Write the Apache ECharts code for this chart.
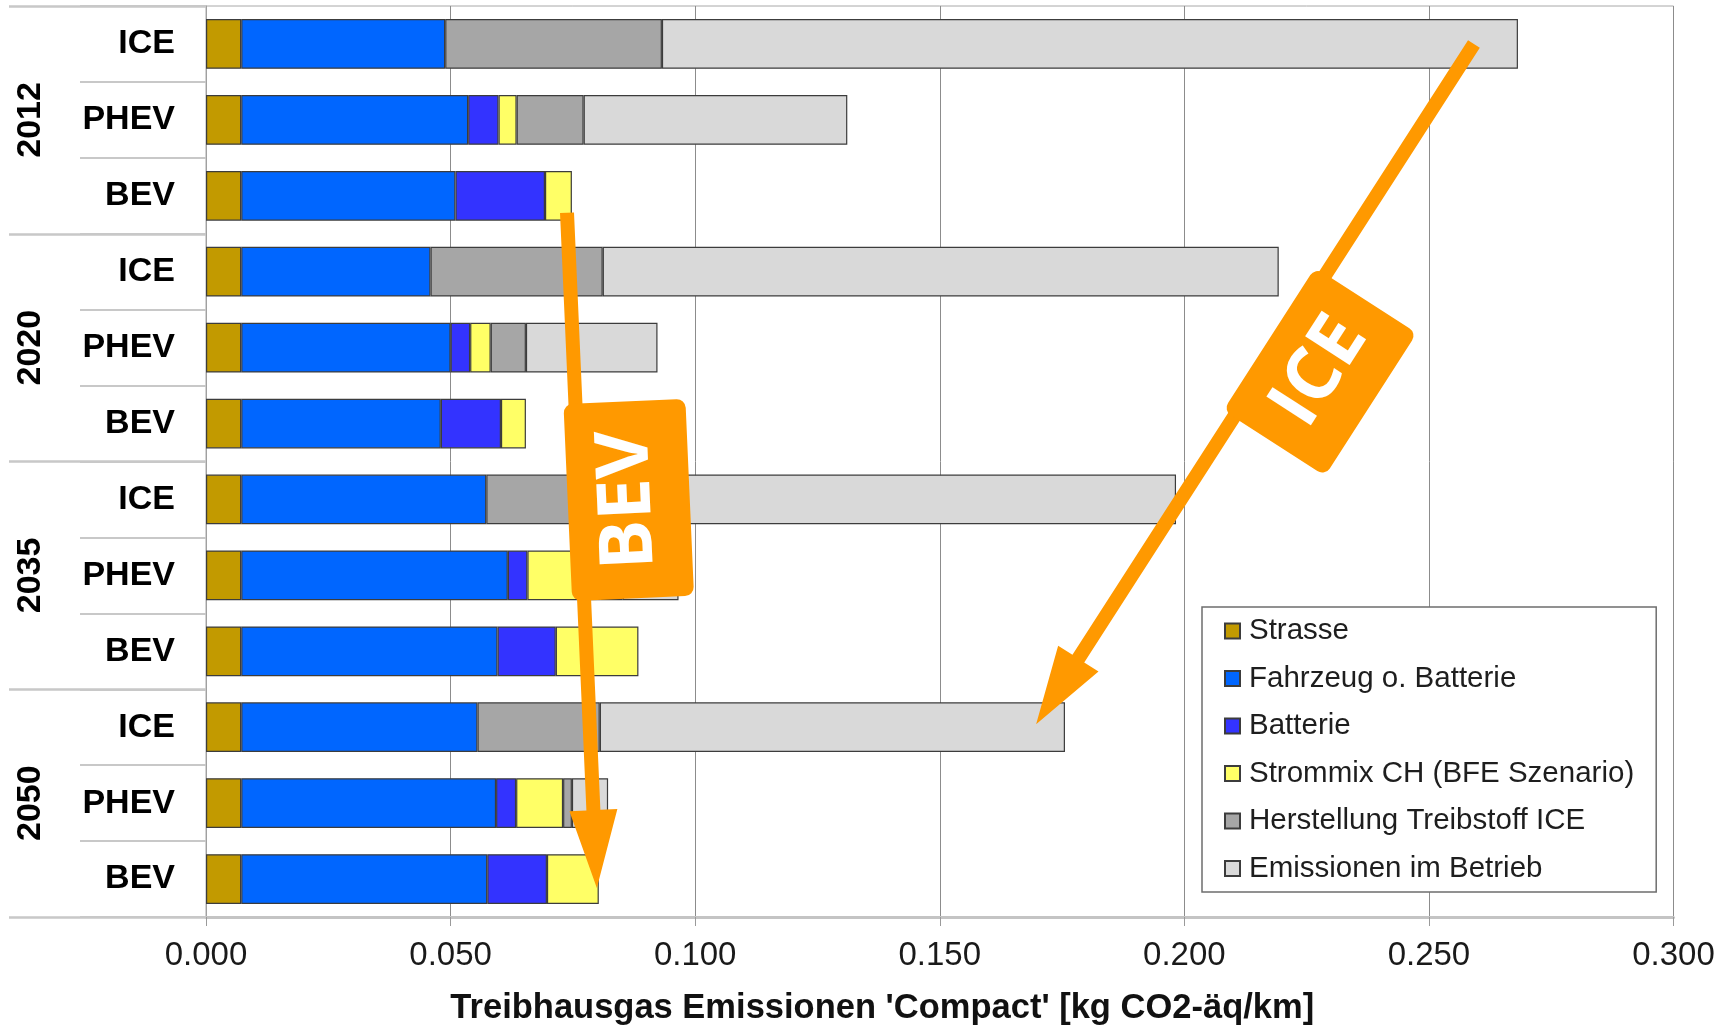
<!DOCTYPE html>
<html>
<head>
<meta charset="utf-8">
<script src="https://cdn.jsdelivr.net/npm/echarts@6/dist/echarts.min.js"></script>
<style>
  html, body { margin: 0; padding: 0; background: #ffffff; }
  #chart { width: 1732px; height: 1031px; }
</style>
</head>
<body>
<div id="chart"></div>
<script>
// Vehicle types per scenario year (top to bottom)
const vehicles = ['ICE', 'PHEV', 'BEV', 'ICE', 'PHEV', 'BEV', 'ICE', 'PHEV', 'BEV', 'ICE', 'PHEV', 'BEV'];
const years = ['2012', '2020', '2035', '2050'];

// Greenhouse gas emissions per km, split by source [kg CO2-eq/km]
const strasse     = [0.0072, 0.0072, 0.0072, 0.0072, 0.0072, 0.0072, 0.0072, 0.0072, 0.0072, 0.0072, 0.0072, 0.0072];
const fahrzeug    = [0.0417, 0.0464, 0.0438, 0.0387, 0.0428, 0.0408, 0.0501, 0.0545, 0.0524, 0.0483, 0.0521, 0.0503];
const batterie    = [null, 0.0062, 0.0183, null, 0.0040, 0.0123, null, 0.0040, 0.0119, null, 0.0041, 0.0122];
const strommix    = [null, 0.0037, 0.0055, null, 0.0042, 0.0051, null, 0.0150, 0.0169, null, 0.0096, 0.0106];
const herstellung = [0.0443, 0.0137, null, 0.0352, 0.0072, null, 0.0286, 0.0045, null, 0.0250, 0.0018, null];
const betrieb     = [0.1750, 0.0539, null, 0.1382, 0.0269, null, 0.1124, 0.0114, null, 0.0951, 0.0074, null];

const seriesNames = ['Strasse', 'Fahrzeug o. Batterie', 'Batterie', 'Strommix CH (BFE Szenario)', 'Herstellung Treibstoff ICE', 'Emissionen im Betrieb'];
const seriesValues = [strasse, fahrzeug, batterie, strommix, herstellung, betrieb];
const seriesColors = ['#C29A00', '#0066FF', '#3333FF', '#FFFF66', '#A6A6A6', '#D9D9D9'];

// x axis scale
const xMin = 0, xMax = 0.3, xStep = 0.05;

const FONT = '"Liberation Sans", Arial, sans-serif';
const ORANGE = '#FF9900';

const chart = echarts.init(document.getElementById('chart'), null, { renderer: 'canvas' });

const option = {
  backgroundColor: '#ffffff',
  animation: false,
  textStyle: { fontFamily: FONT },
  grid: {
    left: 206, right: 58.5, top: 6, bottom: 112,
    show: true, borderColor: '#a8a8a8', borderWidth: 1, backgroundColor: 'transparent'
  },
  legend: {
    orient: 'vertical',
    left: 1202, top: 607,
    padding: [9, 22, 8.5, 22],
    itemWidth: 15, itemHeight: 15, itemGap: 17.5,
    backgroundColor: '#ffffff',
    borderColor: '#6e6e6e', borderWidth: 1.5,
    icon: 'rect',
    textStyle: { fontSize: 29.5, lineHeight: 30, color: '#1e1e1e', fontFamily: FONT, padding: [0, 0, 0, 4] },
    data: seriesNames
  },
  xAxis: {
    type: 'value', min: xMin, max: xMax, interval: xStep,
    name: "Treibhausgas Emissionen 'Compact' [kg CO2-äq/km]",
    nameLocation: 'middle', nameGap: 74,
    nameTextStyle: { fontSize: 34.5, fontWeight: 'bold', color: '#111', fontFamily: FONT, padding: [0, 115, 0, 0] },
    axisLine: { show: true, lineStyle: { color: '#c4c4c4', width: 3 } },
    axisTick: { show: true, length: 9, lineStyle: { color: '#9a9a9a', width: 1 } },
    axisLabel: { fontSize: 33, color: '#1a1a1a', margin: 22, formatter: v => v.toFixed(3) },
    splitLine: { show: true, lineStyle: { color: '#8c8c8c', width: 1 } }
  },
  yAxis: [
    {
      type: 'category', inverse: true, data: vehicles,
      axisLine: { show: true, lineStyle: { color: '#a0a0a0', width: 1 } },
      axisTick: { show: true, length: 126, lineStyle: { color: '#c8c8c8', width: 2 } },
      axisLabel: { fontSize: 34, fontWeight: 'bold', color: '#000', margin: 31 },
      splitLine: { show: false }
    },
    {
      type: 'category', inverse: true, data: years, position: 'left',
      axisLine: { show: false },
      axisTick: { show: true, length: 197, lineStyle: { color: '#c8c8c8', width: 2.5 } },
      axisLabel: { fontSize: 34, fontWeight: 'bold', color: '#000', rotate: 90, margin: 158 },
      splitLine: { show: false }
    }
  ],
  series: seriesNames.map((name, i) => ({
    name: name,
    type: 'bar',
    stack: 'total',
    yAxisIndex: 0,
    barCategoryGap: '34.5%',
    itemStyle: { color: seriesColors[i], borderColor: '#3c3c3c', borderWidth: 1.2 },
    emphasis: { disabled: true },
    data: seriesValues[i]
  }))
};

chart.setOption(option);

// ---- orange trend arrows with rotated tags ----
function px(value, cat, dy) {
  const p = chart.convertToPixel({ gridIndex: 0 }, [value, cat]);
  return [p[0], p[1] + (dy || 0)];
}

function arrowPolygon(s, t, stem, headW, headL) {
  const dx = t[0] - s[0], dy = t[1] - s[1];
  const len = Math.hypot(dx, dy);
  const ux = dx / len, uy = dy / len;
  const nx = -uy, ny = ux;
  const bx = t[0] - ux * headL, by = t[1] - uy * headL;
  return [
    [s[0] + nx * stem / 2, s[1] + ny * stem / 2],
    [bx + nx * stem / 2, by + ny * stem / 2],
    [bx + nx * headW / 2, by + ny * headW / 2],
    [t[0], t[1]],
    [bx - nx * headW / 2, by - ny * headW / 2],
    [bx - nx * stem / 2, by - ny * stem / 2],
    [s[0] - nx * stem / 2, s[1] - ny * stem / 2]
  ];
}

function taggedArrow(label, s, t, along, offset, tagLen, tagWid) {
  const dx = t[0] - s[0], dy = t[1] - s[1];
  const len = Math.hypot(dx, dy);
  const ux = dx / len, uy = dy / len;
  const cx = s[0] + ux * along + uy * offset;
  const cy = s[1] + uy * along - ux * offset;
  const angle = Math.atan2(uy, -ux);
  return [
    { type: 'polygon', z: 100, shape: { points: arrowPolygon(s, t, 14, 48, 78) }, style: { fill: ORANGE } },
    { type: 'rect', z: 101, x: cx, y: cy, rotation: angle,
      shape: { x: -tagLen / 2, y: -tagWid / 2, width: tagLen, height: tagWid, r: 9 },
      style: { fill: ORANGE } },
    { type: 'text', z: 102, x: cx, y: cy, rotation: angle,
      style: { text: label, fill: '#ffffff', font: 'bold 74px "Open Sans", "Liberation Sans", sans-serif',
               align: 'center', verticalAlign: 'middle' } }
  ];
}

const bevStart = px(0.0738, 2, 17);
const bevTip = px(0.0799, 11, 9);
const iceStart = px(0.2592, 0, 0);
const iceTip = px(0.1697, 9, -3);

chart.setOption({
  graphic: [].concat(
    taggedArrow('BEV', bevStart, bevTip, 289.6, 49, 197, 122),
    taggedArrow('ICE', iceStart, iceTip, 358.9, 48, 170, 121)
  )
});
</script>
</body>
</html>
